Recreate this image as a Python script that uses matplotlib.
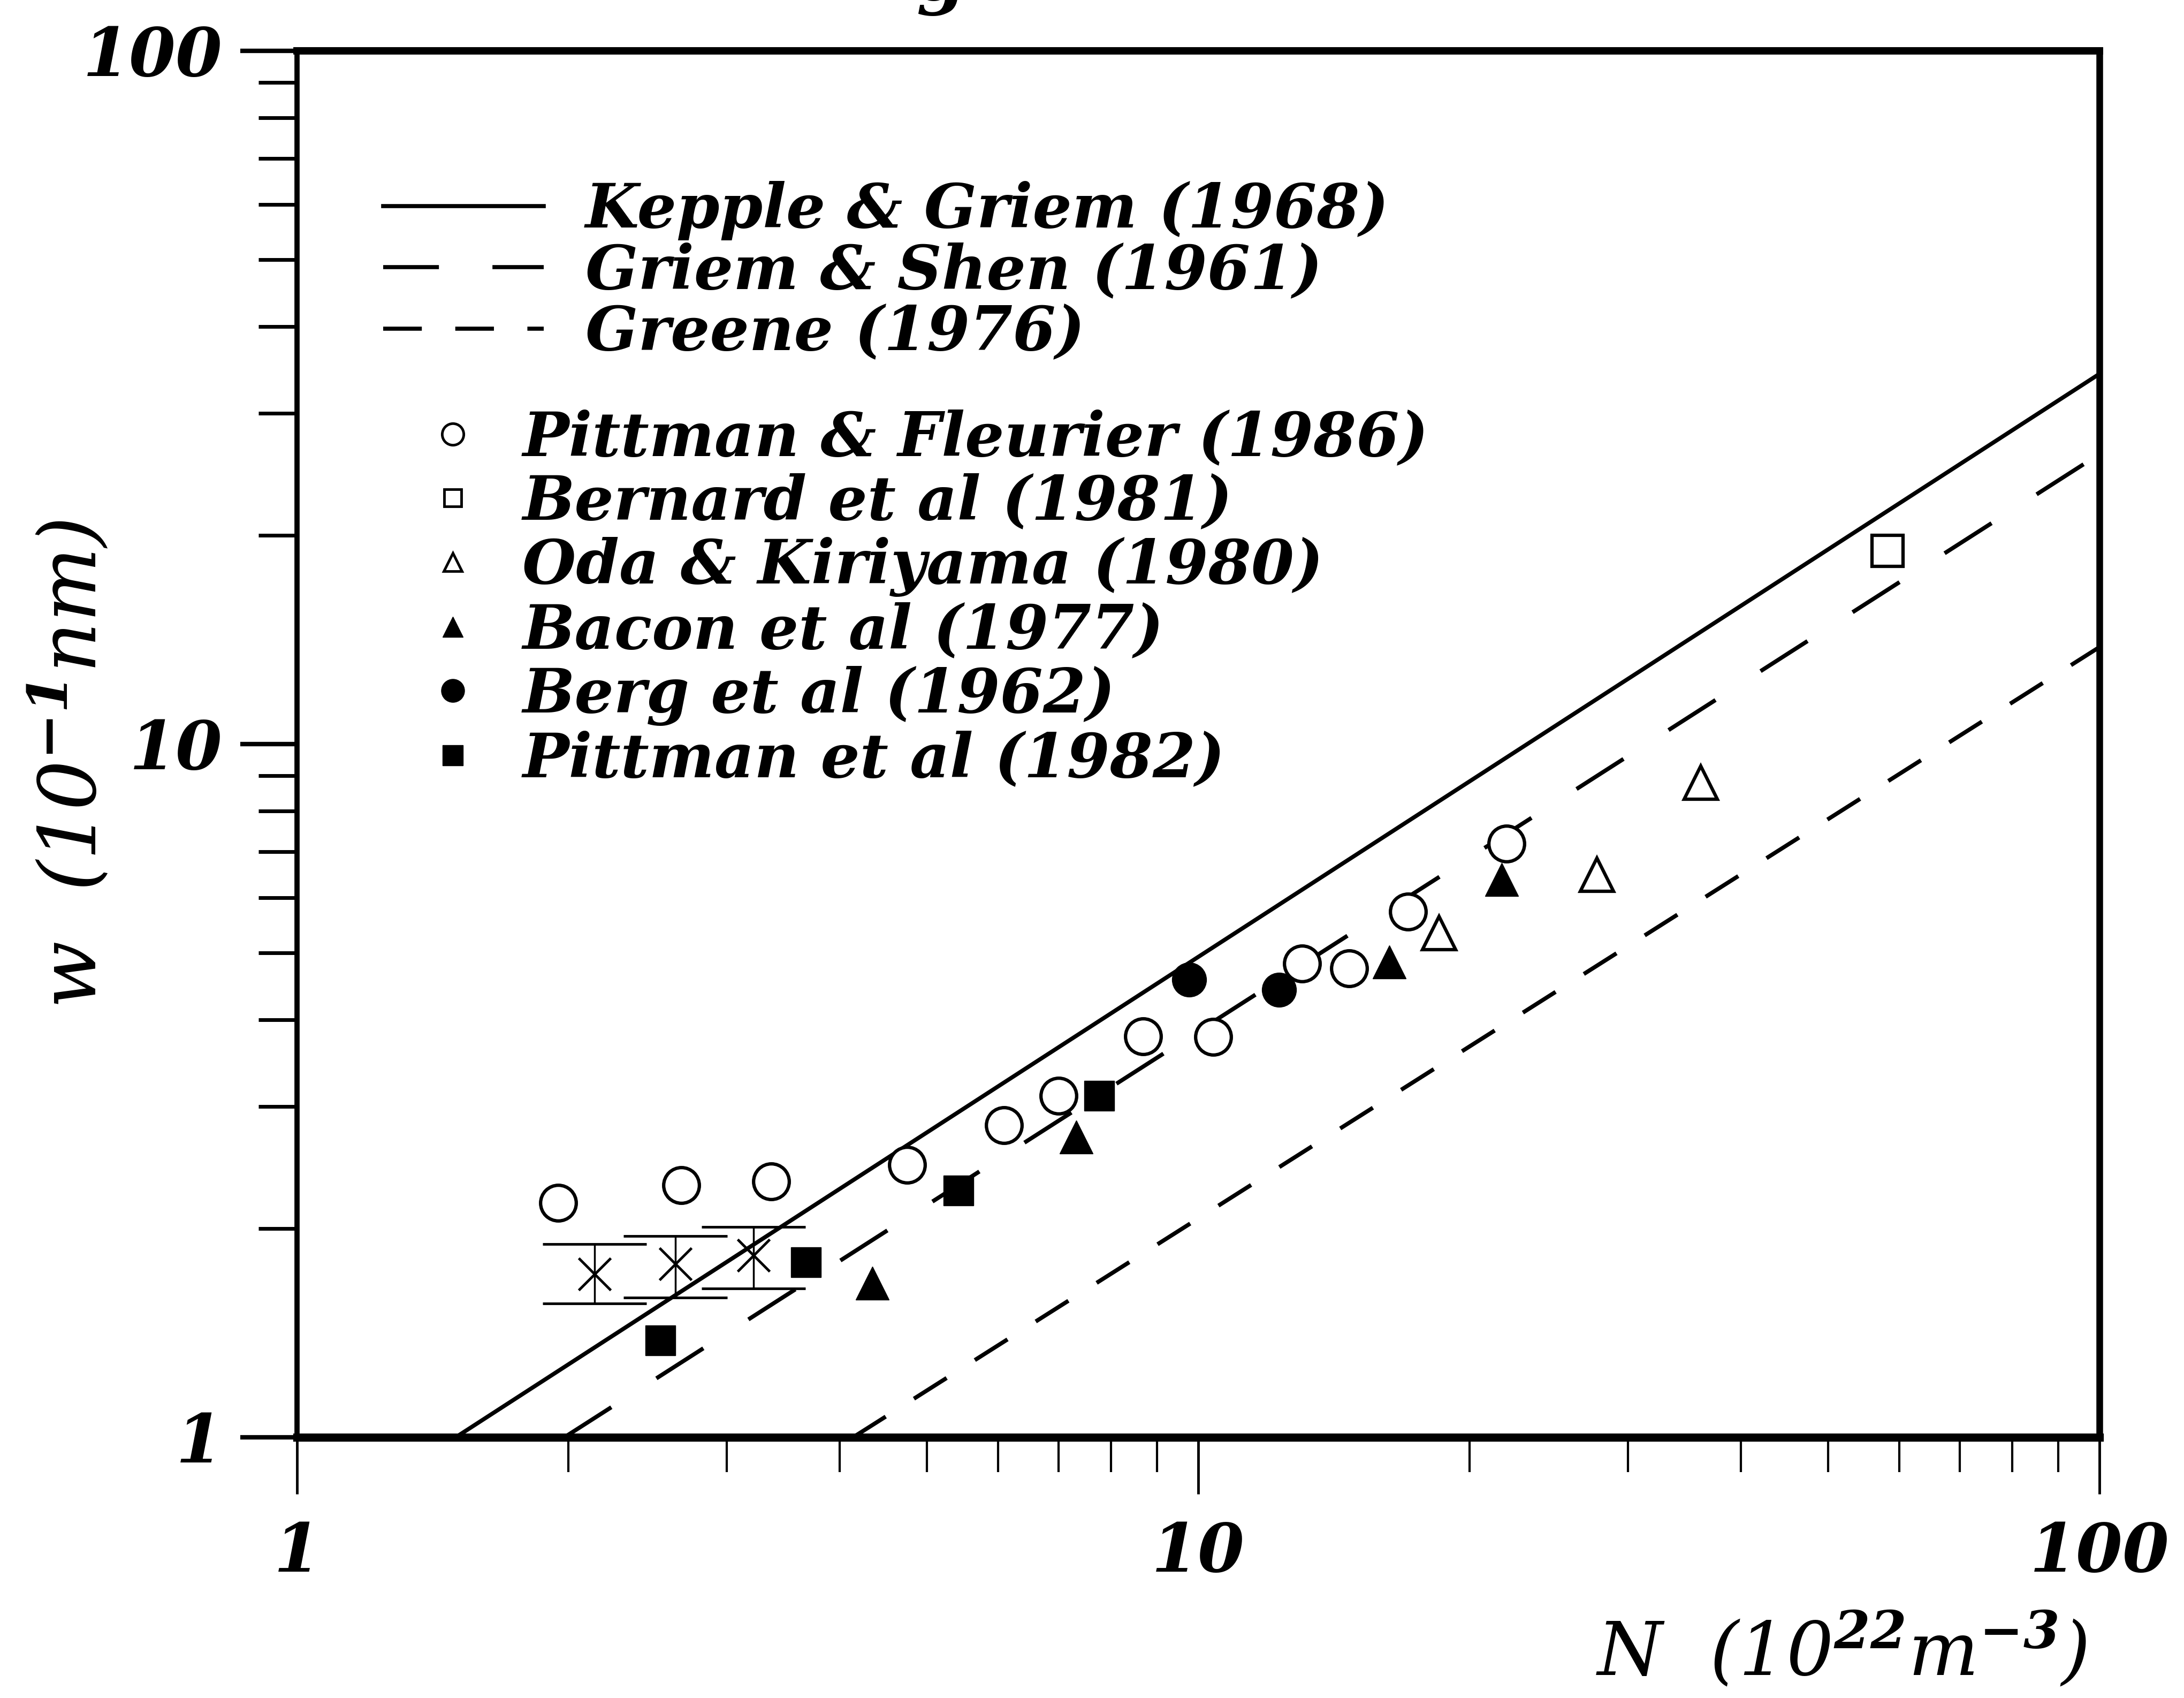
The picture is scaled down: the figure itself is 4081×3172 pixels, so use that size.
import matplotlib
matplotlib.use('Agg')
import matplotlib.pyplot as plt
from matplotlib.lines import Line2D
import numpy as np

plt.rcParams['font.family'] = ['DejaVu Serif']
plt.rcParams['font.style'] = 'italic'
plt.rcParams['font.weight'] = 'bold'
plt.rcParams['mathtext.fontset'] = 'custom'
plt.rcParams['mathtext.rm'] = 'DejaVu Serif:italic:bold'
plt.rcParams['mathtext.it'] = 'DejaVu Serif:italic:bold'
plt.rcParams['mathtext.bf'] = 'DejaVu Serif:italic:bold'

# ---- data ----
line_names = ['Kepple & Griem (1968)', 'Griem & Shen (1961)', 'Greene (1976)']
kg_N = [1.50, 100.0]; kg_w = [1.0, 34.2]
gs_N = [1.98, 100.0]; gs_w = [1.0, 26.2]
gr_N = [4.14, 100.0]; gr_w = [1.0, 13.8]

point_names = ['Pittman & Fleurier (1986)', 'Bernard et al (1981)',
               'Oda & Kiriyama (1980)', 'Bacon et al (1977)',
               'Berg et al (1962)', 'Pittman et al (1982)']
pf_N = [1.95, 2.67, 3.36, 4.75, 6.09, 7.00, 8.69, 10.39, 13.04, 14.71, 17.08, 21.97]
pf_w = [2.18, 2.31, 2.34, 2.47, 2.82, 3.11, 3.79, 3.78, 4.82, 4.75, 5.73, 7.18]
bern_N = [58.2]; bern_w = [19.0]
oda_N = [18.5, 27.7, 36.1]; oda_w = [5.34, 6.48, 8.80]
bacon_N = [4.35, 7.32, 16.3, 21.7]; bacon_w = [1.67, 2.71, 4.85, 6.38]
berg_N = [9.77, 12.3]; berg_w = [4.57, 4.42]
p82_N = [2.53, 3.67, 5.42, 7.77]; p82_w = [1.38, 1.79, 2.27, 3.11]

star_N = [2.14, 2.63, 3.21]
star_w = [1.72, 1.78, 1.83]
star_lo = [1.56, 1.59, 1.64]
star_hi = [1.90, 1.95, 2.01]

tick_vals = [1, 10, 100]
tick_labels = ['1', '10', '100']

# ---- figure ----
W, H = 4081, 3172
fig = plt.figure(figsize=(W / 100, H / 100), dpi=100)
ax = fig.add_axes([555 / W, (H - 2685) / H, 3368 / W, 2590 / H])
ax.set_xscale('log')
ax.set_yscale('log')
ax.set_xlim(1, 100)
ax.set_ylim(1, 100)

LW = 5.5
gs_ls = (0, (75 / LW, 72 / LW))
gr_ls = (0, (52 / LW, 45 / LW))

ax.plot(kg_N, kg_w, color='k', lw=LW, ls='-', zorder=2)
ax.plot(gs_N, gs_w, color='k', lw=LW, ls=gs_ls, zorder=2)
ax.plot(gr_N, gr_w, color='k', lw=LW, ls=gr_ls, zorder=2)

mk = dict(ls='none', color='k', zorder=4)
ax.plot(pf_N, pf_w, marker='o', ms=48, mfc='white', mew=4.5, **mk)
ax.plot(bern_N, bern_w, marker='s', ms=42, mfc='white', mew=4.5, **mk)
ax.plot(oda_N, oda_w, marker='^', ms=44, mfc='white', mew=4.5, **mk)
ax.plot(bacon_N, bacon_w, marker='^', ms=44, mfc='k', mew=1, **mk)
ax.plot(berg_N, berg_w, marker='o', ms=46, mfc='k', mew=1, **mk)
ax.plot(p82_N, p82_w, marker='s', ms=40, mfc='k', mew=1, **mk)

sw = np.array(star_w)
yerr = [sw - np.array(star_lo), np.array(star_hi) - sw]
ax.errorbar(star_N, star_w, yerr=yerr, fmt='x', ms=43, mew=3.5, color='k',
            ecolor='k', elinewidth=2.5, capsize=70, capthick=5, zorder=3)

# ---- axes styling ----
ax.spines['top'].set_linewidth(10)
ax.spines['bottom'].set_linewidth(11)
ax.spines['left'].set_linewidth(7)
ax.spines['right'].set_linewidth(9)

ax.set_xticks(tick_vals, labels=tick_labels)
ax.set_yticks(tick_vals, labels=tick_labels)
ax.tick_params(which='both', direction='out', top=False, right=False)
ax.tick_params(axis='x', which='major', length=76, width=3.5, pad=36, labelsize=90)
ax.tick_params(axis='x', which='minor', length=47, width=3)
ax.tick_params(axis='y', which='major', length=76, width=6, pad=24, labelsize=90)
ax.tick_params(axis='y', which='minor', length=52, width=5)
ax.xaxis.set_minor_formatter(matplotlib.ticker.NullFormatter())
ax.yaxis.set_minor_formatter(matplotlib.ticker.NullFormatter())

ax.set_xlabel(r'N  (10$^{22}$m$^{-3}$)', fontsize=100)
ax.xaxis.label.set_va('center')
ax.xaxis.set_label_coords((3442 - 555) / 3368, (2685 - 3085) / 2590)
ax.set_ylabel(r'w  (10$^{-1}$nm)', fontsize=106)
ax.yaxis.label.set_va('center')
ax.yaxis.set_label_coords((132 - 555) / 3368, (2685 - 1426) / 2590)

fig.text(1758 / W, 1.0, 'g', fontsize=95, ha='center', va='baseline')

# ---- legends ----
FS = 83
h_lines = [Line2D([], [], color='k', lw=LW, ls='-'),
           Line2D([], [], color='k', lw=LW, ls=gs_ls),
           Line2D([], [], color='k', lw=LW, ls=gr_ls)]
leg1 = ax.legend(h_lines, line_names, loc='upper left',
                 bbox_to_anchor=(716 / W, 1 - 338 / H), bbox_transform=fig.transFigure,
                 frameon=False, fontsize=FS, handlelength=2.6, handletextpad=0.68,
                 borderpad=0, borderaxespad=0, labelspacing=0.03)
ax.add_artist(leg1)

h_pts = [Line2D([], [], ls='none', color='k', marker='o', ms=29, mfc='white', mew=3.5),
         Line2D([], [], ls='none', color='k', marker='s', ms=23, mfc='white', mew=3.5),
         Line2D([], [], ls='none', color='k', marker='^', ms=25, mfc='white', mew=3.5),
         Line2D([], [], ls='none', color='k', marker='^', ms=27, mfc='k'),
         Line2D([], [], ls='none', color='k', marker='o', ms=31, mfc='k'),
         Line2D([], [], ls='none', color='k', marker='s', ms=27, mfc='k')]
leg2 = ax.legend(h_pts, point_names, loc='upper left', numpoints=1,
                 bbox_to_anchor=(792 / W, 1 - 764 / H), bbox_transform=fig.transFigure,
                 frameon=False, fontsize=FS, handlelength=0.94, handletextpad=0.66,
                 borderpad=0, borderaxespad=0, labelspacing=0.075)

fig.savefig('out.png', dpi=100)
